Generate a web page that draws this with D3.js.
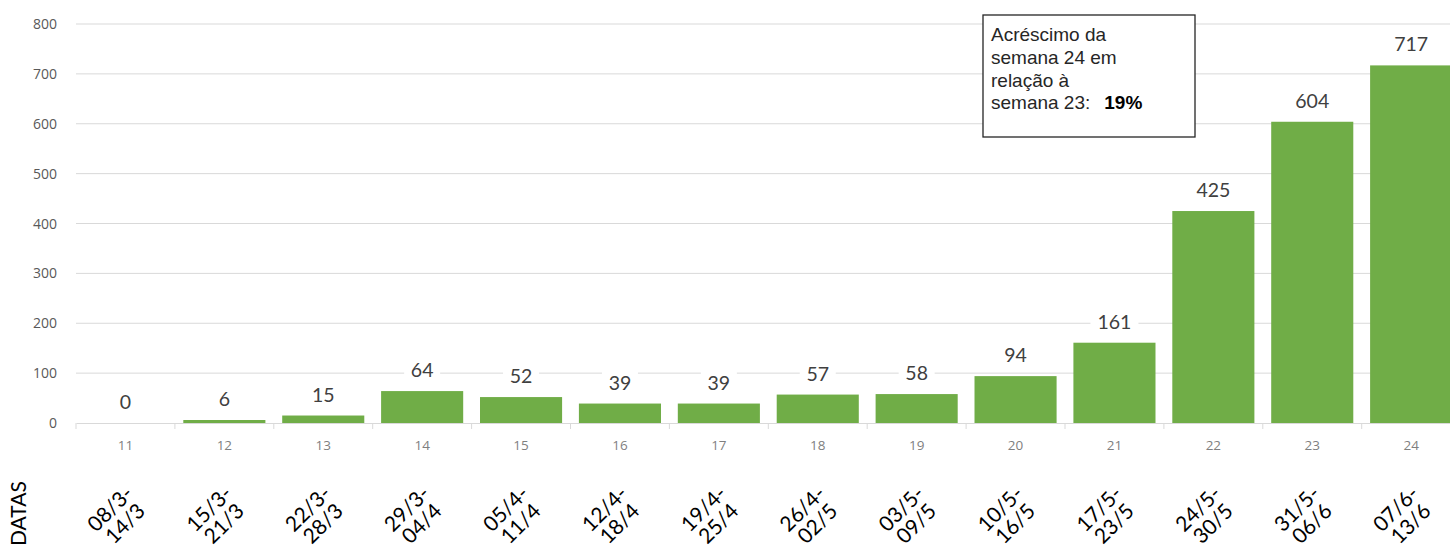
<!DOCTYPE html>
<html><head><meta charset="utf-8">
<script src="https://cdn.jsdelivr.net/npm/d3@7"></script>
<style>body{margin:0;background:#fff;}svg{display:block;}</style>
</head><body>
<svg id="c" width="1450" height="548"></svg>
<script>
const weeks = ["11","12","13","14","15","16","17","18","19","20","21","22","23","24"];
const values = [0,6,15,64,52,39,39,57,58,94,161,425,604,717];
const dateStart = ["08/3-","15/3-","22/3-","29/3-","05/4-","12/4-","19/4-","26/4-","03/5-","10/5-","17/5-","24/5-","31/5-","07/6-"];
const dateEnd = ["14/3","21/3","28/3","04/4","11/4","18/4","25/4","02/5","09/5","16/5","23/5","30/5","06/6","13/6"];
const yTicks = [0,100,200,300,400,500,600,700,800];
const axisTitle = "DATAS";
const noteLines = ["Acréscimo da","semana 24 em","relação à","semana 23:"];
const noteValue = "19%";

const svg = d3.select("#c");
const x = d3.scaleBand().domain(weeks).range([76, 76 + 14 * 98.9]).paddingInner(0.17).paddingOuter(0.085);
const y = d3.scaleLinear().domain([0, 800]).range([423, 24]);

// gridlines
svg.append("g").selectAll("line").data(yTicks.filter(d => d > 0)).join("line")
  .attr("x1", 76).attr("x2", 1450).attr("y1", d => y(d)).attr("y2", d => y(d))
  .attr("stroke", "#d9d9d9").attr("stroke-width", 1);

// y labels
svg.append("g").selectAll("text").data(yTicks).join("text")
  .attr("x", 57).attr("y", d => y(d) + 5).attr("text-anchor", "end")
  .attr("font-family", "'Open Sans', sans-serif").attr("font-size", 14).attr("fill", "#595959")
  .text(d => d);

// bars
svg.append("g").selectAll("rect").data(weeks).join("rect")
  .attr("x", d => x(d)).attr("width", x.bandwidth())
  .attr("y", (d, i) => y(values[i])).attr("height", (d, i) => y(0) - y(values[i]))
  .attr("fill", "#70ad47");

// x axis
const xAxis = d3.axisBottom(x).tickSize(0).tickPadding(17);
const gx = svg.append("g").attr("transform", "translate(0,423)").call(xAxis);
gx.select(".domain").attr("stroke", "#d9d9d9");
gx.selectAll("text").attr("font-family", "'Open Sans', sans-serif").attr("font-size", 13.5).attr("fill", "#7f7f7f");
// boundary ticks
const step = x.step();
svg.append("g").selectAll("line").data(d3.range(weeks.length + 1)).join("line")
  .attr("x1", i => 76 + i * step).attr("x2", i => 76 + i * step)
  .attr("y1", 423).attr("y2", 429).attr("stroke", "#d9d9d9");

// data labels with white background
const lab = svg.append("g").selectAll("g").data(weeks).join("g")
  .attr("transform", (d, i) => `translate(${x(d) + x.bandwidth() / 2},${y(values[i]) - 14})`);
lab.append("rect").attr("x", (d, i) => -String(values[i]).length * 6 - 6).attr("y", -20)
  .attr("width", (d, i) => String(values[i]).length * 12 + 12).attr("height", 24).attr("fill", "#fff");
lab.append("text").attr("text-anchor", "middle")
  .attr("font-family", "Lato, sans-serif").attr("font-size", 19.5).attr("fill", "#404040")
  .text((d, i) => values[i]);

// rotated date labels
const dl = svg.append("g").selectAll("g").data(weeks).join("g")
  .attr("transform", d => `translate(${x(d) + x.bandwidth() / 2 - 8},516) rotate(-45)`);
dl.append("text").attr("text-anchor", "middle").attr("y", -3)
  .attr("font-family", "Lato, sans-serif").attr("font-size", 21).attr("fill", "#000")
  .text((d, i) => dateStart[i]);
dl.append("text").attr("text-anchor", "middle").attr("y", 18).attr("x", 0)
  .attr("font-family", "Lato, sans-serif").attr("font-size", 21).attr("fill", "#000")
  .text((d, i) => dateEnd[i]);

// DATAS title
svg.append("text").attr("transform", "translate(26,546) rotate(-90)")
  .attr("x", 0).attr("font-family", "Lato, sans-serif").attr("font-size", 21).attr("fill", "#000")
  .text(axisTitle);

// annotation box
const note = svg.append("g");
note.append("rect").attr("x", 983).attr("y", 15).attr("width", 212).attr("height", 122)
  .attr("fill", "#fff").attr("stroke", "#262626").attr("stroke-width", 1.3);
const nt = note.append("text").attr("font-family", "'Liberation Sans', Arial, sans-serif").attr("font-size", 19).attr("fill", "#262626");
noteLines.forEach((t, i) => {
  nt.append("tspan").attr("x", 991).attr("y", 41 + i * 22.8).text(t);
});
nt.append("tspan").attr("dx", 14).attr("font-weight", "bold").attr("fill", "#000").text(noteValue);
</script>
</body></html>
